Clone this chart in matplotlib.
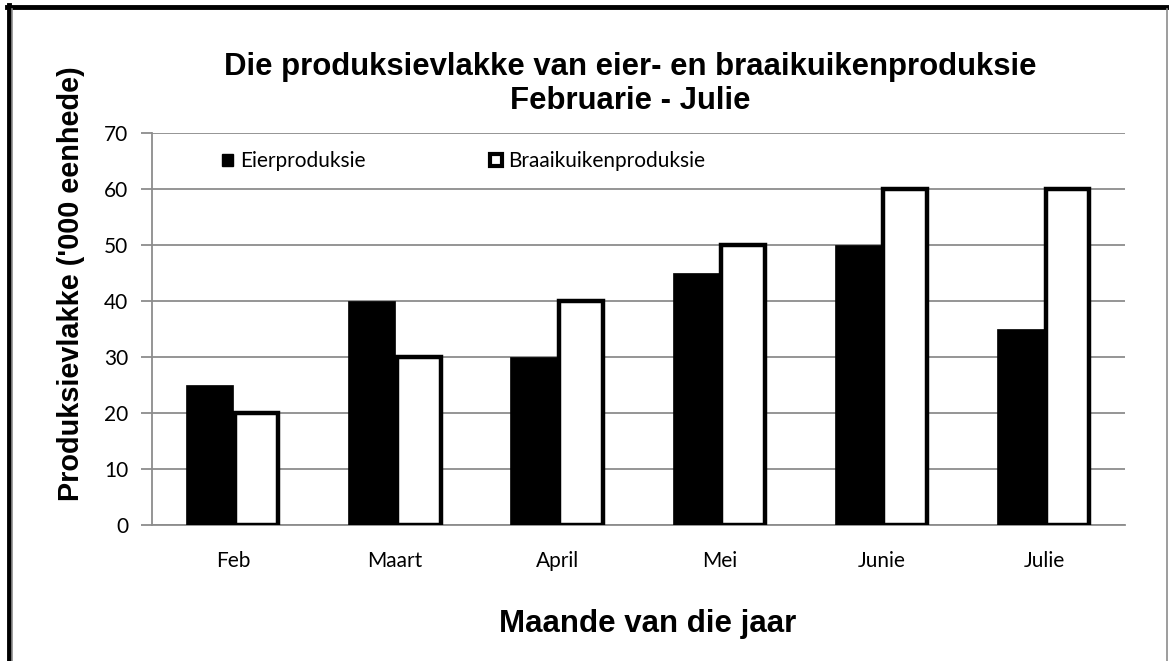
import numpy as np
import matplotlib.pyplot as plt
from matplotlib.lines import Line2D
from matplotlib.patches import Patch

months = ['Feb', 'Maart', 'April', 'Mei', 'Junie', 'Julie']
eier = [25, 40, 30, 45, 50, 35]
braai = [20, 30, 40, 50, 60, 60]
yticks = [0, 10, 20, 30, 40, 50, 60, 70]

tick_font = 'Lato'
bold_font = 'Liberation Sans'

fig = plt.figure(figsize=(11.69, 6.61), dpi=100)
ax = fig.add_axes([0.130, 0.2057, 0.8324, 0.5931])

x = np.arange(len(months))
w = 0.29
ax.bar(x - w / 2, eier, w, color='black', edgecolor='black', linewidth=0.5, zorder=3)
ax.bar(x + w / 2, braai, w * 0.93, color='white', edgecolor='black', linewidth=3.2, zorder=3)

ax.set_xlim(-0.5, len(months) - 0.5)
ax.set_ylim(0, 70)
ax.set_yticks(yticks)
ax.set_xticks(x)
ax.set_xticklabels(months, fontfamily=tick_font, fontsize=15)
for lab in ax.get_yticklabels():
    lab.set_fontfamily(tick_font)
    lab.set_fontsize(15)
ax.tick_params(axis='y', length=8, width=1.3, color='#8c8c8c', pad=9)
ax.tick_params(axis='x', length=0, pad=19)
ax.grid(axis='y', color='#8c8c8c', linewidth=1.3, zorder=0)
ax.set_axisbelow(True)
for s in ['top', 'right']:
    ax.spines[s].set_visible(False)
for s in ['left', 'bottom']:
    ax.spines[s].set_color('#8c8c8c')
    ax.spines[s].set_linewidth(1.3)

ax.set_ylabel("Produksievlakke ('000 eenhede)", fontfamily=bold_font,
              fontweight='bold', fontsize=20.8)
ax.yaxis.set_label_coords(-0.069, 0.615)
ax.set_xlabel('Maande van die jaar', fontfamily=bold_font,
              fontweight='bold', fontsize=22.5)
ax.xaxis.set_label_coords(0.509, -0.215)

fig.text(0.539, 0.873, 'Die produksievlakke van eier- en braaikuikenproduksie\nFebruarie - Julie',
         ha='center', va='center', fontfamily=bold_font, fontweight='bold',
         fontsize=22.4, linespacing=1.17)

handles = [Patch(facecolor='black', edgecolor='black'),
           Patch(facecolor='white', edgecolor='black', linewidth=3)]
ax.legend(handles, ['Eierproduksie', 'Braaikuikenproduksie'], ncol=2,
          loc='center left', bbox_to_anchor=(0.072, 0.928), frameon=False,
          prop={'family': tick_font, 'size': 15}, handlelength=0.55,
          handleheight=0.55, handletextpad=0.3, columnspacing=6,
          borderpad=0, borderaxespad=0)

# outer frame
fig.add_artist(Line2D([0.0075, 0.0075], [0, 0.992], color='black', linewidth=3.5,
                      transform=fig.transFigure))
fig.add_artist(Line2D([0.006, 0.998], [0.9895, 0.9895], color='black', linewidth=3.5,
                      transform=fig.transFigure))
fig.add_artist(Line2D([0.0105, 0.0105], [0, 0.987], color='#8c8c8c', linewidth=1.2,
                      transform=fig.transFigure))
fig.add_artist(Line2D([0.9985, 0.9985], [0, 0.987], color='#8c8c8c', linewidth=1.2,
                      transform=fig.transFigure))

fig.savefig('out.png', dpi=100)
